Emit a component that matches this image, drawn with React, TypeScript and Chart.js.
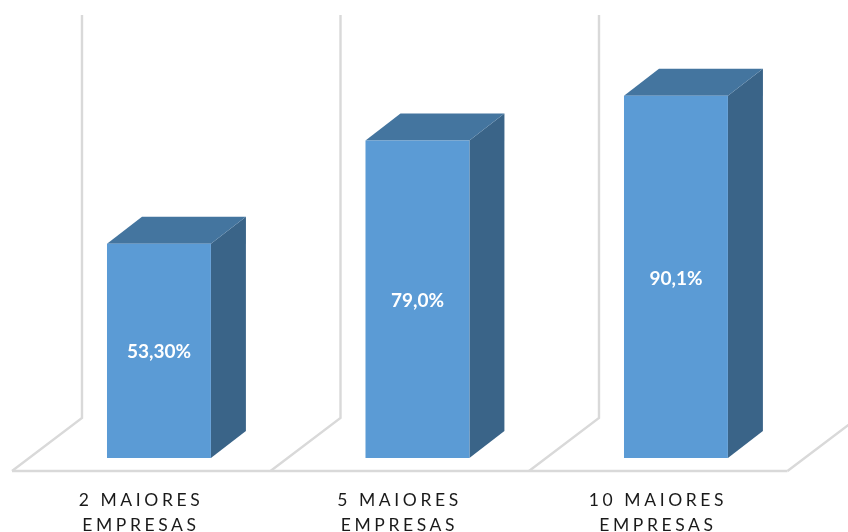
import React, { useEffect, useRef } from "react";
import { Chart, registerables } from "chart.js";

Chart.register(...registerables);

const categories = [
  ["2 MAIORES", "EMPRESAS"],
  ["5 MAIORES", "EMPRESAS"],
  ["10 MAIORES", "EMPRESAS"],
];
const shares = [53.3, 79.0, 90.1];
const shareLabels = ["53,30%", "79,0%", "90,1%"];

const FRONT = "#5B9BD5";
const TOP = "#44759F";
const SIDE = "#3A6488";
const GRID = "#D9D9D9";

// Oblique projection of the box depth, in pixels.
const DEPTH_X = 35;
const DEPTH_Y = 27;
// Floor outline relative to the plane the bar fronts stand on.
const FLOOR_FRONT_X = -17.7;
const FLOOR_FRONT_Y = 13;
const FLOOR_BACK_X = 52.3;
const FLOOR_BACK_Y = -40;

function poly(ctx: CanvasRenderingContext2D, pts: number[][], fill: string) {
  ctx.beginPath();
  pts.forEach(([x, y], i) => (i ? ctx.lineTo(x, y) : ctx.moveTo(x, y)));
  ctx.closePath();
  ctx.fillStyle = fill;
  ctx.fill();
}

const box3d = {
  id: "box3d",
  beforeDraw(chart: any) {
    // Wide tracking for the category labels.
    chart.ctx.letterSpacing = "3.6px";
  },
  beforeDatasetsDraw(chart: any) {
    const { ctx, scales } = chart;
    const x = scales.x;
    const y = scales.y;
    const base = y.getPixelForValue(0);
    const wallTop = y.getPixelForValue(100) + FLOOR_BACK_Y - 1;
    const step = x.getPixelForValue(1) - x.getPixelForValue(0);
    const edge = (i: number) => x.getPixelForValue(0) - step / 2 + i * step;

    ctx.save();
    ctx.strokeStyle = GRID;
    ctx.lineWidth = 2.4;
    ctx.lineJoin = "miter";
    for (let i = 0; i <= categories.length; i++) {
      const e = edge(i);
      ctx.beginPath();
      ctx.moveTo(e + FLOOR_FRONT_X, base + FLOOR_FRONT_Y);
      ctx.lineTo(e + FLOOR_BACK_X, base + FLOOR_BACK_Y);
      ctx.lineTo(e + FLOOR_BACK_X, wallTop);
      ctx.stroke();
    }
    ctx.beginPath();
    ctx.moveTo(edge(0) + FLOOR_FRONT_X, base + FLOOR_FRONT_Y);
    ctx.lineTo(edge(categories.length) + FLOOR_FRONT_X, base + FLOOR_FRONT_Y);
    ctx.stroke();

    chart.getDatasetMeta(0).data.forEach((bar: any) => {
      const half = bar.width / 2;
      const l = bar.x - half;
      const r = bar.x + half;
      const t = bar.y;
      poly(ctx, [[r, t], [r + DEPTH_X, t - DEPTH_Y], [r + DEPTH_X, base - DEPTH_Y], [r, base]], SIDE);
      poly(ctx, [[l, t], [l + DEPTH_X, t - DEPTH_Y], [r + DEPTH_X, t - DEPTH_Y], [r, t]], TOP);
    });
    ctx.restore();
  },
  afterDatasetsDraw(chart: any) {
    const { ctx } = chart;
    const base = chart.scales.y.getPixelForValue(0);
    ctx.save();
    ctx.letterSpacing = "0px";
    ctx.fillStyle = "#FFFFFF";
    ctx.font = "bold 19px Lato";
    ctx.textAlign = "center";
    ctx.textBaseline = "middle";
    chart.getDatasetMeta(0).data.forEach((bar: any, i: number) => {
      ctx.fillText(shareLabels[i], bar.x, (bar.y + base) / 2 + 1.5);
    });
    ctx.restore();
  },
};

export default function App() {
  const ref = useRef<HTMLCanvasElement>(null);

  useEffect(() => {
    const chart = new Chart(ref.current!, {
      type: "bar",
      data: {
        labels: categories,
        datasets: [
          {
            data: shares,
            backgroundColor: FRONT,
            borderWidth: 0,
            barPercentage: 0.402,
            categoryPercentage: 1,
          },
        ],
      },
      plugins: [box3d],
      options: {
        responsive: false,
        animation: false,
        layout: { padding: { left: 29.7, right: 42.8, top: 56, bottom: 0 } },
        plugins: { legend: { display: false }, tooltip: { enabled: false } },
        scales: {
          x: {
            grid: { display: false },
            border: { display: false },
            afterFit(scale: any) {
              scale.height = 74;
            },
            ticks: {
              color: "#1A1A1A",
              padding: 22,
              labelOffset: -18,
              maxRotation: 0,
              font: { family: "Lato", size: 17.5, lineHeight: 1.43 },
            },
          },
          y: { display: false, min: 0, max: 100 },
        },
      },
    } as any);
    return () => chart.destroy();
  }, []);

  return (
    <div style={{ position: "absolute", left: 0, top: 0, width: 848, height: 532, background: "#FFFFFF" }}>
      <canvas ref={ref} width={848} height={532} style={{ display: "block" }} />
    </div>
  );
}
